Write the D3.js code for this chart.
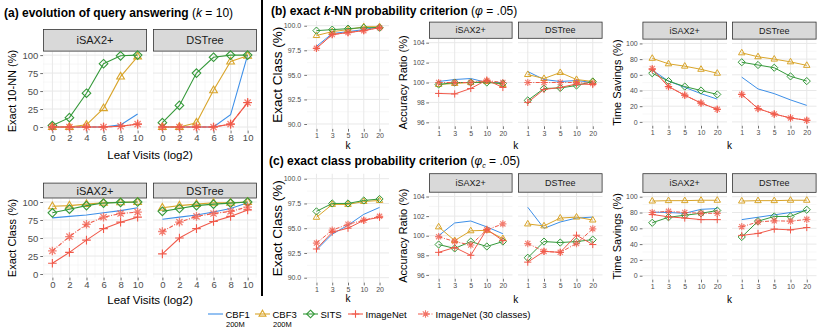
<!DOCTYPE html>
<html>
<head>
<meta charset="utf-8">
<script src="https://cdn.jsdelivr.net/npm/d3@7"></script>
<style>
body { margin: 0; background: #fff; }
svg { font-family: "Liberation Sans", Arial, Helvetica, sans-serif; }
</style>
</head>
<body>
<svg id="chart" width="822" height="328"></svg>
<script>
// Series, in legend order (every row below follows this order)
var seriesNames = ["CBF1", "CBF3", "SITS", "ImageNet", "ImageNet (30 classes)"];
var seriesSub = ["200M", "200M", "", "", ""];
var leafVisits = [0, 2, 4, 6, 8, 10];
var kValues = [1, 3, 5, 10, 20];

// (a) exact 10-NN (%) by leaf visits
var nnIsax = [
  [0, 0, 0, 0, 3, 18],
  [0, 0, 3, 26, 70, 98],
  [2, 13, 47, 88, 99, 100],
  [0, 0, 0, 0, 1, 4],
  [0, 0, 0, 0, 1, 4]
];
var nnDstree = [
  [0, 0, 0, 0, 17, 100],
  [0, 0, 6, 51, 91, 99],
  [6, 30, 75, 97, 100, 100],
  [0, 0, 0, 0, 4, 34],
  [0, 0, 0, 0, 4, 34]
];
// (a) exact class (%) by leaf visits
var classIsaxLeaf = [
  [78, 80, 82, 85, 88, 92],
  [94, 95, 97, 99, 99.5, 100],
  [85, 90, 95, 98.5, 99.5, 100],
  [15, 30, 47, 63, 72, 79],
  [32, 52, 69, 79, 84, 86]
];
var classDstreeLeaf = [
  [76, 79, 82, 86, 91, 99],
  [92, 95, 97, 99, 99, 100],
  [87, 91, 95, 97, 98.5, 100],
  [28, 50, 63, 73, 80, 89],
  [59, 72, 80, 84, 87, 93]
];

// (b) exact k-NN probability criterion
var knnExact = [
  [97.9, 99.2, 99.4, 99.6, 99.9],
  [99.0, 99.4, 99.6, 99.9, 99.9],
  [99.5, 99.6, 99.7, 99.8, 99.8],
  [97.7, 99.1, 99.3, 99.5, 99.8],
  [97.7, 99.1, 99.3, 99.5, 99.8]
];
var knnRatioIsax = [
  [100.1, 100.3, 100.4, 100.0, 100.0],
  [99.8, 99.9, 100.0, 100.1, 99.8],
  [99.8, 100.0, 100.0, 100.0, 99.9],
  [98.9, 98.85, 99.4, 100.25, 99.5],
  [100.0, 100.0, 100.0, 100.2, 100.0]
];
var knnRatioDstree = [
  [101.1, 100.3, 100.1, 100.2, 100.0],
  [100.8, 100.4, 101.0, 100.3, 100.1],
  [98.2, 99.4, 99.45, 99.7, 100.1],
  [98.0, 99.3, 99.5, 99.85, 99.8],
  [100.0, 100.0, 100.0, 100.0, 99.9]
];
var knnSavingIsax = [
  [66, 52, 44, 36, 29],
  [81, 74, 71, 67, 62],
  [62, 52, 45, 40, 35],
  [67, 45, 34, 24, 16],
  [68, 45, 34, 24, 16]
];
var knnSavingDstree = [
  [57, 42, 36, 28, 21],
  [88, 83, 80, 76.5, 72],
  [76, 72.5, 69, 58, 52],
  [35, 17, 10, 5, 2],
  [35, 17, 10, 5, 2]
];

// (c) exact class probability criterion
var clsExact = [
  [92.8, 94.4, 95.3, 96.4, 97.1],
  [96.1, 97.4, 97.4, 97.7, 97.8],
  [96.7, 97.5, 97.5, 97.8, 97.95],
  [92.9, 94.6, 95.0, 95.8, 96.1],
  [93.5, 94.8, 95.4, 95.8, 96.2]
];
var clsRatioIsax = [
  [100.0, 101.3, 101.5, 100.9, 100.2],
  [100.9, 99.5, 100.5, 100.55, 99.7],
  [99.1, 98.7, 99.4, 98.9, 99.4],
  [98.3, 98.8, 98.0, 100.65, 99.5],
  [99.9, 99.4, 99.05, 100.6, 101.2]
];
var clsRatioDstree = [
  [102.9, 100.75, 101.4, 101.8, 101.9],
  [101.2, 101.0, 101.8, 101.9, 101.6],
  [97.75, 99.4, 99.3, 99.4, 99.6],
  [97.3, 98.4, 98.3, 100.05, 99.1],
  [99.2, 98.4, 98.3, 99.2, 100.7]
];
var clsSavingIsax = [
  [80.5, 80, 79, 84, 85],
  [94.5, 95, 95, 95.5, 95.5],
  [67, 74, 76.5, 79, 82.5],
  [77.5, 74.5, 73, 71, 71],
  [80, 81.5, 80, 79, 79]
];
var clsSavingDstree = [
  [71, 74, 77, 80, 82.5],
  [94.5, 95, 95, 95.5, 95.5],
  [49, 69, 75, 75, 83.5],
  [51, 53.5, 59, 58, 61],
  [62, 68, 69.5, 69, 71.3]
];

// look of each series
var styles = [
  {color: "#3d8fe8", dash: null, shape: "none"},
  {color: "#d9a52b", dash: null, shape: "triangle"},
  {color: "#35993a", dash: null, shape: "diamond"},
  {color: "#f0594a", dash: null, shape: "plus"},
  {color: "#f0594a", dash: "4,1.5,1,1.5", shape: "asterisk"}
];

var svg = d3.select("#chart");

function shapePath(shape, r) {
  var d = r * 0.72;
  if (shape === "triangle") return `M0,${-r}L${r * 0.9},${r * 0.55}L${-r * 0.9},${r * 0.55}Z`;
  if (shape === "diamond") return `M0,${-r}L${r},0L0,${r}L${-r},0Z`;
  if (shape === "plus") return `M${-r},0H${r}M0,${-r}V${r}`;
  if (shape === "asterisk") return `M${-r},0H${r}M0,${-r}V${r}M${-d},${-d}L${d},${d}M${-d},${d}L${d},${-d}`;
  return null;
}

function styleAxis(ax, fs) {
  ax.select(".domain").remove();
  ax.selectAll(".tick line").attr("stroke", "#333").attr("stroke-width", 0.7);
  ax.selectAll(".tick text").attr("fill", "#4d4d4d").attr("font-size", fs + "px")
    .attr("font-family", "Liberation Sans, Arial, sans-serif");
}

function drawGroup(cfg) {
  var span = cfg.yDomain[1] - cfg.yDomain[0];
  var y = d3.scaleLinear()
    .domain([cfg.yDomain[0] - span * 0.05, cfg.yDomain[1] + span * 0.05])
    .range([cfg.y1, cfg.y0]);

  cfg.facets.forEach(function(f, i) {
    var x;
    if (cfg.numeric) x = d3.scaleLinear().domain(cfg.xDomain).range([f.x0, f.x1]);
    else x = d3.scalePoint().domain(cfg.xs).range([f.x0, f.x1]).padding(0.6);
    var g = svg.append("g");

    // grid
    g.selectAll(".ymin").data(cfg.yMinor).enter().append("line")
      .attr("x1", f.x0).attr("x2", f.x1).attr("y1", d => y(d)).attr("y2", d => y(d))
      .attr("stroke", "#f2f2f2").attr("stroke-width", 0.6);
    if (cfg.xMinor) {
      g.selectAll(".xmin").data(cfg.xMinor).enter().append("line")
        .attr("x1", d => x(d)).attr("x2", d => x(d)).attr("y1", cfg.y0).attr("y2", cfg.y1)
        .attr("stroke", "#f2f2f2").attr("stroke-width", 0.6);
    }
    g.selectAll(".ymaj").data(cfg.yTicks).enter().append("line")
      .attr("x1", f.x0).attr("x2", f.x1).attr("y1", d => y(d)).attr("y2", d => y(d))
      .attr("stroke", "#e8e8e8").attr("stroke-width", 1);
    g.selectAll(".xmaj").data(cfg.xs).enter().append("line")
      .attr("x1", d => x(d)).attr("x2", d => x(d)).attr("y1", cfg.y0).attr("y2", cfg.y1)
      .attr("stroke", "#e8e8e8").attr("stroke-width", 1);

    // facet strip
    if (f.label) {
      g.append("rect")
        .attr("x", f.x0 + 0.4).attr("y", cfg.strip[0] + 0.4)
        .attr("width", f.x1 - f.x0 - 0.8).attr("height", cfg.strip[1] - cfg.strip[0] - 0.8)
        .attr("fill", "#d9d9d9").attr("stroke", "#333").attr("stroke-width", 0.8);
      g.append("text")
        .attr("x", (f.x0 + f.x1) / 2).attr("y", (cfg.strip[0] + cfg.strip[1]) / 2)
        .attr("dy", "0.36em").attr("text-anchor", "middle")
        .attr("font-size", cfg.stripFs + "px").attr("fill", "#1a1a1a")
        .text(f.label);
    }

    // axes
    var xAxis = g.append("g")
      .attr("transform", `translate(0,${cfg.y1})`)
      .call(d3.axisBottom(x).tickValues(cfg.xs).tickSize(2.75).tickPadding(cfg.xPad));
    styleAxis(xAxis, cfg.tickFs);
    if (i === 0) {
      var yAxis = g.append("g")
        .attr("transform", `translate(${f.x0},0)`)
        .call(d3.axisLeft(y).tickValues(cfg.yTicks).tickSize(2.75).tickPadding(cfg.yPad)
          .tickFormat(cfg.yFormat || d3.format("d")));
      styleAxis(yAxis, cfg.tickFs);
    }

    // series
    f.rows.forEach(function(vals, s) {
      var st = styles[s];
      var pts = cfg.xs.map((xv, j) => [x(xv), y(vals[j])]);
      g.append("path")
        .attr("d", d3.line()(pts))
        .attr("fill", "none")
        .attr("stroke", st.color)
        .attr("stroke-width", cfg.lw)
        .attr("stroke-dasharray", st.dash);
      if (st.shape !== "none") {
        g.selectAll(null).data(pts).enter().append("path")
          .attr("transform", d => `translate(${d[0]},${d[1]})`)
          .attr("d", shapePath(st.shape, cfg.mr))
          .attr("fill", "none")
          .attr("stroke", st.color)
          .attr("stroke-width", st.shape === "asterisk" ? cfg.lw * 1.2 : cfg.lw)
          .attr("opacity", st.shape === "asterisk" ? 0.75 : 1);
      }
    });
  });

  // axis titles
  var last = cfg.facets[cfg.facets.length - 1];
  svg.append("text")
    .attr("transform", `translate(${cfg.yTitleX},${(cfg.y0 + cfg.y1) / 2}) rotate(-90)`)
    .attr("text-anchor", "middle").attr("dy", "0.36em")
    .attr("font-size", cfg.yTitleFs + "px").attr("fill", "#000")
    .text(cfg.yTitle);
  svg.append("text")
    .attr("x", (cfg.facets[0].x0 + last.x1) / 2).attr("y", cfg.xTitleY)
    .attr("text-anchor", "middle")
    .attr("font-size", cfg.xTitleFs + "px").attr("fill", "#000")
    .text(cfg.xTitle);
}

// (a) evolution of query answering
var aCommon = {numeric: true, xs: leafVisits, xDomain: [-1.1, 11.1], xMinor: [-1, 1, 3, 5, 7, 9, 11],
  yDomain: [0, 100], yTicks: [0, 25, 50, 75, 100], yMinor: [12.5, 37.5, 62.5, 87.5],
  tickFs: 9.5, stripFs: 11, xPad: 1.2, yPad: 2, lw: 1.1, mr: 4.3,
  yTitleX: 12.5, yTitleFs: 11, xTitle: "Leaf Visits (log2)", xTitleFs: 11.5};
drawGroup(Object.assign({}, aCommon, {
  facets: [{label: "iSAX2+", x0: 43, x1: 147, rows: nnIsax}, {label: "DSTree", x0: 153, x1: 257, rows: nnDstree}],
  strip: [29, 51.5], y0: 51.5, y1: 130.6, yTitle: "Exact 10-NN (%)", xTitleY: 158.5
}));
drawGroup(Object.assign({}, aCommon, {
  facets: [{label: "iSAX2+", x0: 43, x1: 147, rows: classIsaxLeaf}, {label: "DSTree", x0: 153, x1: 257, rows: classDstreeLeaf}],
  strip: [182.7, 198.4], y0: 198.4, y1: 277.6, yTitle: "Exact Class (%)", xTitleY: 304
}));

// (b) and (c) share their layout, rows differ
var kCommon = {numeric: false, xs: kValues, tickFs: 7, stripFs: 9, xPad: 1.8, lw: 1, mr: 3.6,
  xTitle: "k", xTitleFs: 10};
var exactCfg = Object.assign({}, kCommon, {yDomain: [90, 100], yTicks: [90, 92.5, 95, 97.5, 100],
  yMinor: [91.25, 93.75, 96.25, 98.75], yFormat: d3.format(".1f"), yPad: 3,
  yTitle: "Exact Class (%)", yTitleX: 277, yTitleFs: 13.5});
var ratioCfg = Object.assign({}, kCommon, {yDomain: [96, 104], yTicks: [96, 98, 100, 102, 104],
  yMinor: [97, 99, 101, 103], yPad: 1.5, yTitle: "Accuracy Ratio (%)", yTitleX: 403, yTitleFs: 11});
var savingCfg = Object.assign({}, kCommon, {yDomain: [0, 100], yTicks: [0, 20, 40, 60, 80, 100],
  yMinor: [10, 30, 50, 70, 90], yPad: 2, yTitle: "Time Savings (%)", yTitleX: 617, yTitleFs: 11});

drawGroup(Object.assign({}, exactCfg, {facets: [{x0: 307, x1: 389, rows: knnExact}],
  y0: 20.8, y1: 128.9, xTitleY: 149}));
drawGroup(Object.assign({}, ratioCfg, {
  facets: [{label: "iSAX2+", x0: 429, x1: 512.5, rows: knnRatioIsax}, {label: "DSTree", x0: 518, x1: 602.5, rows: knnRatioDstree}],
  strip: [21.7, 38.7], y0: 38.7, y1: 126.3, xTitleY: 149}));
drawGroup(Object.assign({}, savingCfg, {
  facets: [{label: "iSAX2+", x0: 642.5, x1: 727, rows: knnSavingIsax}, {label: "DSTree", x0: 732, x1: 816.5, rows: knnSavingDstree}],
  strip: [21.7, 39.5], y0: 39.5, y1: 125.8, xTitleY: 149}));

drawGroup(Object.assign({}, exactCfg, {facets: [{x0: 307, x1: 389, rows: clsExact}],
  y0: 173.75, y1: 282.65, xTitleY: 302}));
drawGroup(Object.assign({}, ratioCfg, {
  facets: [{label: "iSAX2+", x0: 429, x1: 512.5, rows: clsRatioIsax}, {label: "DSTree", x0: 518, x1: 602.5, rows: clsRatioDstree}],
  strip: [173.3, 192.6], y0: 192.6, y1: 278.8, xTitleY: 303}));
drawGroup(Object.assign({}, savingCfg, {
  facets: [{label: "iSAX2+", x0: 642.5, x1: 727, rows: clsSavingIsax}, {label: "DSTree", x0: 732, x1: 816.5, rows: clsSavingDstree}],
  strip: [173.3, 192.75], y0: 192.75, y1: 279.65, xTitleY: 303}));

// separator between (a) and (b)/(c)
svg.append("line").attr("x1", 262).attr("x2", 262).attr("y1", 0).attr("y2", 296)
  .attr("stroke", "#000").attr("stroke-width", 2);

// panel titles
function title(x, y) {
  return svg.append("text").attr("x", x).attr("y", y).attr("font-size", "12px").attr("fill", "#000");
}
var ta = title(4, 16.5);
ta.append("tspan").attr("font-weight", "bold").text("(a) evolution of query answering ");
ta.append("tspan").text("(");
ta.append("tspan").attr("font-style", "italic").text("k");
ta.append("tspan").text(" = 10)");

var tb = title(271, 14.5);
tb.append("tspan").attr("font-weight", "bold").text("(b) exact ");
tb.append("tspan").attr("font-weight", "bold").attr("font-style", "italic").text("k");
tb.append("tspan").attr("font-weight", "bold").text("-NN probability criterion ");
tb.append("tspan").text("(");
tb.append("tspan").attr("font-style", "italic").text("\u03c6");
tb.append("tspan").text(" = .05)");

var tc = title(269, 165);
tc.append("tspan").attr("font-weight", "bold").text("(c) exact class probability criterion ");
tc.append("tspan").text("(");
tc.append("tspan").attr("font-style", "italic").text("\u03c6");
tc.append("tspan").attr("font-style", "italic").attr("font-size", "7px").attr("dy", 3).text("c");
tc.append("tspan").attr("dy", -3).text(" = .05)");

// legend
var legendX = [208, 255, 303, 348, 418];
var legend = svg.append("g");
seriesNames.forEach(function(name, s) {
  var st = styles[s];
  var lx = legendX[s];
  legend.append("line").attr("x1", lx).attr("x2", lx + 15).attr("y1", 314).attr("y2", 314)
    .attr("stroke", st.color).attr("stroke-width", 1.1).attr("stroke-dasharray", st.dash);
  if (st.shape !== "none") {
    legend.append("path").attr("transform", `translate(${lx + 7.5},314)`)
      .attr("d", shapePath(st.shape, 3.8)).attr("fill", "none")
      .attr("stroke", st.color).attr("stroke-width", 1.1)
      .attr("opacity", st.shape === "asterisk" ? 0.8 : 1);
  }
  legend.append("text").attr("x", lx + 17.5).attr("y", 317.5)
    .attr("font-size", "9.5px").attr("fill", "#000").text(name);
  if (seriesSub[s]) {
    legend.append("text").attr("x", lx + 18).attr("y", 327)
      .attr("font-size", "7.5px").attr("fill", "#000").text(seriesSub[s]);
  }
});
</script>
</body>
</html>
